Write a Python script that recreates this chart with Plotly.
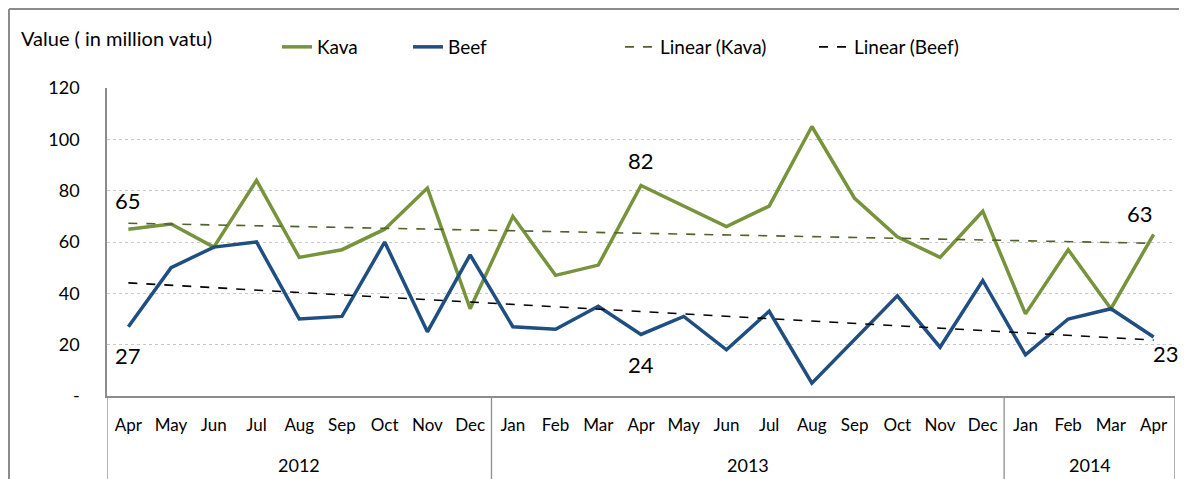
import numpy as np
import plotly.graph_objects as go

months = ["Apr", "May", "Jun", "Jul", "Aug", "Sep", "Oct", "Nov", "Dec",
          "Jan", "Feb", "Mar", "Apr", "May", "Jun", "Jul", "Aug", "Sep", "Oct", "Nov", "Dec",
          "Jan", "Feb", "Mar", "Apr"]
years = ["2012", "2013", "2014"]
year_counts = [9, 12, 4]
kava = [65, 67, 58, 84, 54, 57, 65, 81, 34,
        70, 47, 51, 82, 74, 66, 74, 105, 77, 62, 54, 72,
        32, 57, 34, 63]
beef = [27, 50, 58, 60, 30, 31, 60, 25, 55,
        27, 26, 35, 24, 31, 18, 33, 5, 22, 39, 19, 45,
        16, 30, 34, 23]
y_ticks = [0, 20, 40, 60, 80, 100, 120]
y_ticklabels = ["-", "20", "40", "60", "80", "100", "120"]

FONT = "Lato, Roboto, sans-serif"
# page body has an 8px margin: the figure is drawn 8px right/down of the window corner
W, H = 1179, 471
L, R, T, B = 99, 12, 80, 83
PW, PH = W - L - R, H - T - B

def px(xfig):
    return (xfig - L) / PW

def py(yfig):
    return (T + PH - yfig) / PH

x = np.arange(len(months))
k_fit = np.polyval(np.polyfit(x, kava, 1), x)
b_fit = np.polyval(np.polyfit(x, beef, 1), x)

fig = go.Figure()
fig.add_trace(go.Scatter(x=x, y=kava, mode="lines", name="Kava",
                         line=dict(color="#77933C", width=3.5), legend="legend"))
fig.add_trace(go.Scatter(x=x, y=beef, mode="lines", name="Beef",
                         line=dict(color="#1F4E80", width=3.5), legend="legend2"))
fig.add_trace(go.Scatter(x=x, y=k_fit, mode="lines", name="Linear (Kava)",
                         line=dict(color="#4F6228", width=1.6, dash="dash"), legend="legend3"))
fig.add_trace(go.Scatter(x=x, y=b_fit, mode="lines", name="Linear (Beef)",
                         line=dict(color="#000000", width=1.6, dash="dash"), legend="legend4"))

leg = dict(orientation="h", yanchor="middle", xanchor="left",
           font=dict(family=FONT, size=19, color="#000"),
           bgcolor="rgba(0,0,0,0)", itemwidth=30)
ly = py(47 - 8)
fig.update_layout(
    showlegend=True,
    legend=dict(leg, x=px(277 - 8), y=ly),
    legend2=dict(leg, x=px(408 - 8), y=ly),
    legend3=dict(leg, x=px(620 - 8), y=ly),
    legend4=dict(leg, x=px(814 - 8), y=ly),
)

annotations = []
def lab(i, v, xs, ys):
    annotations.append(dict(x=x[i], y=v, text=str(v), showarrow=False, xshift=xs, yshift=ys,
                            font=dict(family=FONT, size=22, color="#000")))
lab(0, kava[0], 0, 29)
lab(0, beef[0], 0, -29)
lab(12, kava[12], 0, 25)
lab(12, beef[12], 0, -30)
lab(24, kava[24], -14, 21)
lab(24, beef[24], 12, -17)

start = 0
shapes = []
for yr, c in zip(years, year_counts):
    annotations.append(dict(x=start + (c - 1) / 2, y=py(465 - 8), yref="paper", text=yr, showarrow=False,
                            yanchor="middle", font=dict(family=FONT, size=18, color="#000")))
    shapes.append(dict(type="line", x0=start - 0.5, x1=start - 0.5, y0=0, y1=py(H + 5), yref="paper",
                       line=dict(color="#8C8C8C", width=1.3)))
    start += c
shapes.append(dict(type="line", x0=start - 0.5, x1=start - 0.5, y0=0, y1=py(H + 5), yref="paper",
                   line=dict(color="#8C8C8C", width=1.3)))

annotations.append(dict(x=px(19 - 8), y=py(38 - 8), xref="paper", yref="paper", xanchor="left",
                        yanchor="middle", text="Value ( in million vatu)", showarrow=False,
                        font=dict(family=FONT, size=20, color="#000")))

# outer frame (top and left)
shapes.append(dict(type="line", xref="paper", yref="paper", x0=px(1), x1=px(W + 5), y0=py(1), y1=py(1),
                   line=dict(color="#8C8C8C", width=2)))
shapes.append(dict(type="line", xref="paper", yref="paper", x0=px(1), x1=px(1), y0=py(1), y1=py(H + 5),
                   line=dict(color="#8C8C8C", width=2)))

fig.update_layout(
    width=W, height=H,
    margin=dict(l=L, r=R, t=T, b=B),
    paper_bgcolor="white", plot_bgcolor="white",
    font=dict(family=FONT, size=18, color="#000"),
    annotations=annotations, shapes=shapes,
    xaxis=dict(range=[-0.5, 24.5], tickvals=list(x), ticktext=months, showgrid=False,
               showline=True, linecolor="#8C8C8C", linewidth=1.5, ticks="", zeroline=False,
               ticklabelstandoff=13, tickfont=dict(family=FONT, size=17)),
    yaxis=dict(range=[0, 120], tickvals=y_ticks, ticktext=y_ticklabels, showgrid=True,
               gridcolor="#C8C8C8", griddash="dot", gridwidth=1, showline=True, linecolor="#8C8C8C",
               linewidth=1.5, zeroline=False, ticks="", ticklabelstandoff=22,
               tickfont=dict(family=FONT, size=18)),
)
fig.write_html("out.html")
